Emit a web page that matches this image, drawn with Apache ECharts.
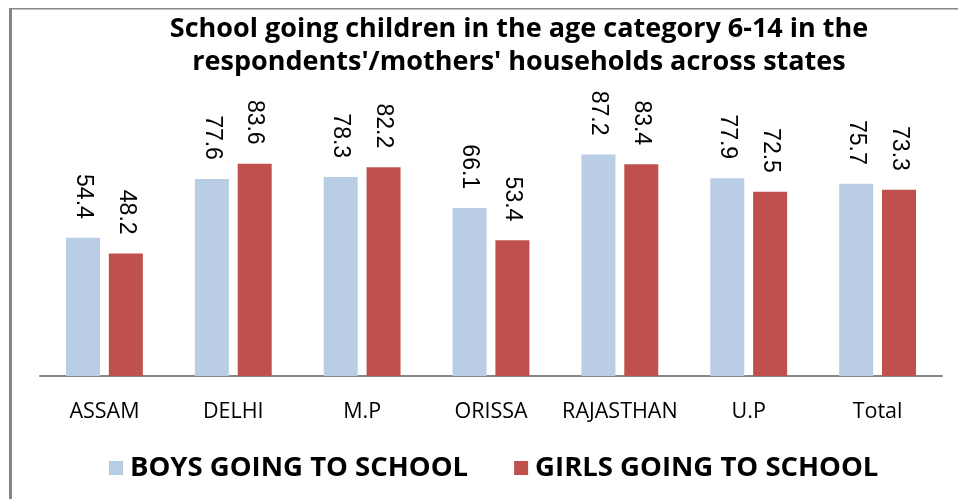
<!DOCTYPE html>
<html>
<head>
<meta charset="utf-8">
<script src="https://cdn.jsdelivr.net/npm/echarts@6/dist/echarts.min.js"></script>
<style>
  html, body { margin: 0; padding: 0; background: #fff; }
  #main { width: 958px; height: 499px; }
</style>
</head>
<body>
<div id="main"></div>
<script>
// data
var states = ['ASSAM', 'DELHI', 'M.P', 'ORISSA', 'RAJASTHAN', 'U.P', 'Total'];
var boys = [54.4, 77.6, 78.3, 66.1, 87.2, 77.9, 75.7];
var girls = [48.2, 83.6, 82.2, 53.4, 83.4, 72.5, 73.3];
var seriesNames = ['BOYS GOING TO SCHOOL', 'GIRLS GOING TO SCHOOL'];

var chart = echarts.init(document.getElementById('main'));

var barLabel = {
    show: true,
    position: 'top',
    rotate: -90,
    align: 'right',
    verticalAlign: 'middle',
    distance: 19,
    fontFamily: 'Liberation Sans',
    fontSize: 23,
    color: '#000'
};

var option = {
    animation: false,
    title: {
        text: "School going children in the age category 6-14 in the\nrespondents'/mothers' households across states",
        left: 514,
        top: 8,
        textAlign: 'center',
        textStyle: {
            fontFamily: 'Open Sans',
            fontWeight: 'bold',
            fontSize: 27,
            lineHeight: 33,
            color: '#000'
        }
    },
    legend: {
        data: seriesNames,
        left: 104,
        top: 449,
        itemWidth: 14,
        itemHeight: 14,
        itemGap: 46,
        icon: 'rect',
        textStyle: {
            fontFamily: 'Open Sans',
            fontWeight: 'bold',
            fontSize: 27.5,
            color: '#000',
            padding: [0, 0, 0, 2]
        }
    },
    grid: {
        left: 40,
        right: 16,
        top: 122,
        bottom: 123
    },
    xAxis: {
        type: 'category',
        data: states,
        axisTick: { show: false },
        axisLine: { lineStyle: { color: '#868686', width: 2 } },
        axisLabel: {
            interval: 0,
            fontFamily: 'Open Sans',
            fontSize: 21.5,
            color: '#000',
            margin: 25
        }
    },
    yAxis: {
        type: 'value',
        min: 0,
        max: 100,
        show: false
    },
    series: [
        {
            name: seriesNames[0],
            type: 'bar',
            data: boys,
            barWidth: 34,
            barGap: '26%',
            itemStyle: { color: '#B9CDE5' },
            label: barLabel
        },
        {
            name: seriesNames[1],
            type: 'bar',
            data: girls,
            barWidth: 34,
            itemStyle: { color: '#C0504D' },
            label: barLabel
        }
    ],
    graphic: [
        { type: 'rect', shape: { x: 9, y: 8, width: 3, height: 491 }, style: { fill: '#868686' } },
        { type: 'rect', shape: { x: 9, y: 8, width: 949, height: 1.5 }, style: { fill: '#868686' } }
    ]
};

chart.setOption(option);
</script>
</body>
</html>
